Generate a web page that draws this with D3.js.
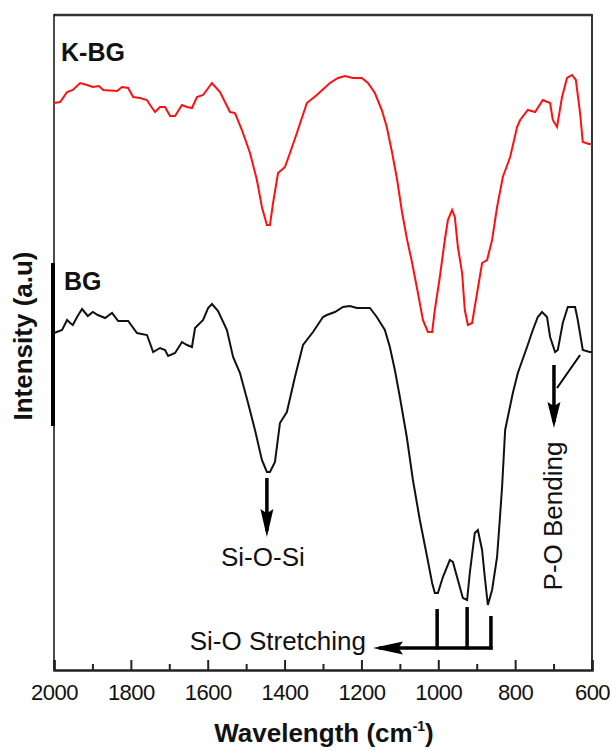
<!DOCTYPE html>
<html>
<head>
<meta charset="utf-8">
<script src="https://cdn.jsdelivr.net/npm/d3@7"></script>
<style>
  body { margin: 0; background: #fff; }
  text { font-family: "Liberation Sans", Arial, sans-serif; fill: #111; }
</style>
</head>
<body>
<svg id="chart" width="611" height="751"></svg>
<script>
// FTIR spectra, K-BG (red) above BG (black)
var kbgWave = [2000,1984,1966,1951,1932,1914,1899,1883,1872,1836,1823,1807,1794,1776,1758,1750,1737,1724,1711,1698,1685,1667,1654,1641,1628,1612,1589,1568,1542,1529,1511,1490,1472,1459,1446,1438,1430,1417,1399,1386,1368,1342,1316,1282,1261,1243,1222,1199,1183,1165,1147,1134,1120,1107,1094,1081,1068,1053,1040,1027,1016,1009,996,983,975,964,957,949,938,931,923,912,899,886,873,860,847,832,813,795,787,767,748,728,709,702,691,678,665,652,642,631,624,608,600];
var kbgInt = [567,568,578,580,587,585,583,584,580,579,583,582,573,572,570,565,558,563,563,554,554,565,563,562,573,575,587,578,558,557,540,517,490,463,445,445,467,497,503,517,537,567,575,587,592,594,592,592,587,577,560,543,517,490,457,430,407,377,350,338,338,360,393,430,450,460,453,423,397,360,345,347,377,407,410,430,463,493,513,543,550,560,558,570,567,550,543,573,592,595,590,557,528,526,526];

var bgWave = [2000,1979,1966,1958,1951,1940,1927,1912,1899,1886,1867,1849,1833,1807,1784,1758,1742,1724,1711,1703,1685,1667,1654,1641,1633,1612,1599,1589,1573,1550,1534,1516,1495,1477,1459,1446,1438,1425,1412,1394,1373,1352,1326,1300,1290,1269,1248,1230,1212,1178,1160,1139,1126,1113,1100,1082,1066,1048,1029,1016,1009,1001,988,970,962,949,936,925,918,905,897,886,879,871,860,847,840,834,826,819,806,793,769,754,741,730,717,709,696,689,676,663,644,637,624,606,600];
var bgInt = [337,340,350,347,345,353,361,354,358,355,352,357,349,349,337,335,318,322,320,314,317,328,325,323,342,350,362,366,359,340,313,297,267,240,210,198,198,208,247,258,293,325,338,353,355,358,363,364,362,362,353,340,323,300,273,233,190,150,113,87,77,77,93,110,108,90,72,70,97,137,140,120,93,65,80,113,150,183,240,253,277,297,323,340,353,358,353,333,318,320,347,363,363,350,320,318,318];

var majorTicks = [2000,1800,1600,1400,1200,1000,800,600];
var minorTicks = [1900,1700,1500,1300,1100,900,700];

// annotation anchors (wavenumber, intensity)
var siOSiArrow = { wn: 1446, from: 192, to: 133 };
var stretchPeaks = [1003, 925, 863];
var stretchTops = [61, 63, 54];
var stretchBase = 22, stretchTip = 1170;
var poArrow = { wn: 699, from: 305, to: 242 };
var poLink = [[631, 315], [691, 282]];

var svg = d3.select("#chart");
var x = d3.scaleLinear().domain([2000, 600]).range([54, 592]);
var y = d3.scaleLinear().domain([0, 655]).range([670, 15]);

// frame
svg.append("line").attr("x1", 54).attr("x2", 592).attr("y1", 15).attr("y2", 15)
  .attr("stroke", "#333").attr("stroke-width", 2.5);
svg.append("line").attr("x1", 54).attr("x2", 54).attr("y1", 14).attr("y2", 670)
  .attr("stroke", "#111").attr("stroke-width", 1.5);
svg.append("line").attr("x1", 592).attr("x2", 592).attr("y1", 14).attr("y2", 670)
  .attr("stroke", "#333").attr("stroke-width", 2);
svg.append("line").attr("x1", 53).attr("x2", 53).attr("y1", 263).attr("y2", 426)
  .attr("stroke", "#000").attr("stroke-width", 4);

// bottom axis
var xAxis = svg.append("g").attr("transform", "translate(0,670)")
  .call(d3.axisBottom(x).tickValues(majorTicks).tickSize(-10).tickFormat(d3.format("d")));
xAxis.select(".domain").attr("stroke", "#222").attr("stroke-width", 2.5);
xAxis.selectAll(".tick line").attr("stroke", "#222").attr("stroke-width", 2);
xAxis.selectAll(".tick text").attr("y", 30).attr("dy", null)
  .attr("font-size", 22).attr("font-family", "Liberation Sans, Arial, sans-serif")
  .attr("fill", "#111").attr("letter-spacing", -0.5);

svg.append("g").attr("transform", "translate(0,670)")
  .call(d3.axisBottom(x).tickValues(minorTicks).tickSize(-6).tickFormat(""))
  .call(function(g) {
    g.select(".domain").remove();
    g.selectAll(".tick line").attr("stroke", "#222").attr("stroke-width", 2);
  });

// spectra
var line = d3.line()
  .x(function(d) { return x(d[0]); })
  .y(function(d) { return y(d[1]); });

svg.append("path").datum(d3.zip(kbgWave, kbgInt))
  .attr("d", line).attr("fill", "none").attr("stroke", "#ff1010").attr("stroke-width", 2);
svg.append("path").datum(d3.zip(bgWave, bgInt))
  .attr("d", line).attr("fill", "none").attr("stroke", "#111").attr("stroke-width", 2);

// series labels
svg.append("text").attr("x", 61).attr("y", 61).attr("font-size", 25).attr("font-weight", "bold")
  .text("K-BG");
svg.append("text").attr("x", 64).attr("y", 290).attr("font-size", 25).attr("font-weight", "bold")
  .text("BG");

// axis titles
svg.append("text").attr("transform", "translate(32,336) rotate(-90)")
  .attr("text-anchor", "middle").attr("font-size", 26).attr("font-weight", "bold")
  .text("Intensity (a.u)");
var xt = svg.append("text").attr("x", 324).attr("y", 742).attr("text-anchor", "middle")
  .attr("font-size", 26).attr("font-weight", "bold");
xt.append("tspan").text("Wavelength (cm");
xt.append("tspan").attr("font-size", 14).attr("dy", -11).text("-1");
xt.append("tspan").attr("dy", 11).text(")");

// arrowhead: tip at (0,0) pointing along +x
function arrowHead(g, tx, ty, angle, len, w) {
  g.append("path")
    .attr("d", "M0,0 L" + (-len) + "," + (-w / 2) + " L" + (-len * 0.85) + ",0 L" + (-len) + "," + (w / 2) + " Z")
    .attr("transform", "translate(" + tx + "," + ty + ") rotate(" + angle + ")")
    .attr("fill", "#000");
}

var ann = svg.append("g").attr("stroke-linecap", "butt");

// Si-O-Si
ann.append("line").attr("x1", x(siOSiArrow.wn)).attr("x2", x(siOSiArrow.wn))
  .attr("y1", y(siOSiArrow.from)).attr("y2", y(siOSiArrow.to) - 6)
  .attr("stroke", "#000").attr("stroke-width", 3.5);
arrowHead(ann, x(siOSiArrow.wn), y(siOSiArrow.to), 90, 28, 13);
svg.append("text").attr("x", x(siOSiArrow.wn) - 4).attr("y", 566).attr("text-anchor", "middle")
  .attr("font-size", 26).text("Si-O-Si");

// Si-O Stretching
stretchPeaks.forEach(function(wn, i) {
  ann.append("line").attr("x1", x(wn)).attr("x2", x(wn))
    .attr("y1", y(stretchTops[i])).attr("y2", y(stretchBase) + 1.5)
    .attr("stroke", "#000").attr("stroke-width", 3.5);
});
ann.append("line").attr("x1", x(stretchPeaks[2]) + 1.7).attr("x2", x(stretchTip) + 6)
  .attr("y1", y(stretchBase)).attr("y2", y(stretchBase))
  .attr("stroke", "#000").attr("stroke-width", 3.5);
arrowHead(ann, x(stretchTip), y(stretchBase), 180, 30, 13);
svg.append("text").attr("x", 366).attr("y", 650).attr("text-anchor", "end")
  .attr("font-size", 26).text("Si-O Stretching");

// P-O Bending
ann.append("line").attr("x1", x(poArrow.wn)).attr("x2", x(poArrow.wn))
  .attr("y1", y(poArrow.from)).attr("y2", y(poArrow.to) - 6)
  .attr("stroke", "#000").attr("stroke-width", 3.5);
arrowHead(ann, x(poArrow.wn), y(poArrow.to), 90, 26, 13);
ann.append("line").attr("x1", x(poLink[0][0])).attr("y1", y(poLink[0][1]))
  .attr("x2", x(poLink[1][0])).attr("y2", y(poLink[1][1]))
  .attr("stroke", "#000").attr("stroke-width", 2);
svg.append("text").attr("transform", "translate(562,516) rotate(-90)")
  .attr("text-anchor", "middle").attr("font-size", 26).text("P-O Bending");
</script>
</body>
</html>
